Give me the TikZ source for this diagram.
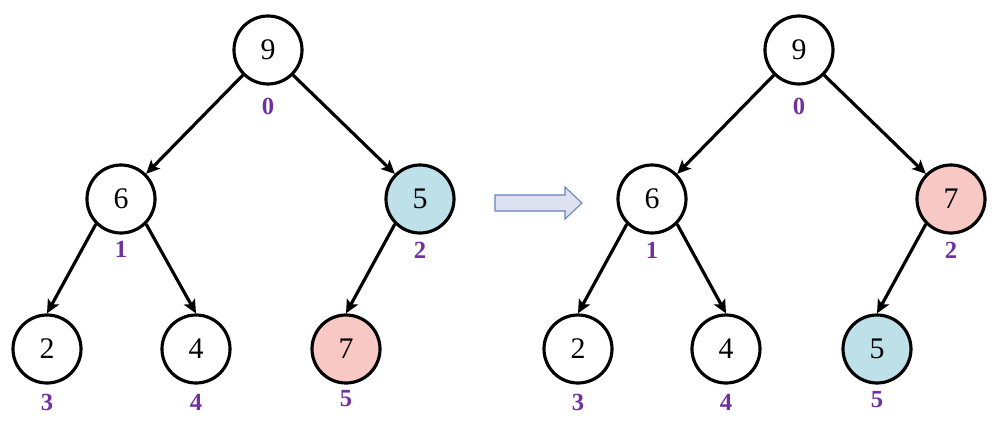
\documentclass[tikz,border=0pt]{standalone}
\usepackage{fontspec}
\setmainfont{Liberation Serif}
\usepackage{tikz}
\usetikzlibrary{arrows.meta,calc}
\definecolor{idxpurple}{HTML}{7030A0}
\definecolor{swapblue}{HTML}{BEE0E8}
\definecolor{swappink}{HTML}{F8C9C4}
\definecolor{arrowfill}{HTML}{DFE1F1}
\definecolor{arrowline}{HTML}{6483BB}
\tikzset{
	heapnode/.style={circle, draw, line width=1.8pt, minimum size=1.36cm, inner sep=0pt, font=\fontsize{17}{19}\selectfont},
	idx/.style={inner sep=0pt, text=idxpurple, font=\fontsize{14}{16}\selectfont\bfseries},
	heapedge/.style={line width=1.8pt, -{Stealth[length=0.27cm,width=0.25cm,inset=0.06cm]}}
}

\begin{document}
\begin{tikzpicture}
		\useasboundingbox (0,0) rectangle (20.02,-8.48);
%		before
		\node[heapnode] (A0) at (5.36,-1.00) {9};
		\node[heapnode] (A1) at (2.42,-3.98) {6};
		\node[heapnode, fill=swapblue] (A2) at (8.40,-3.98) {5};
		\node[heapnode] (A3) at (0.94,-6.98) {2};
		\node[heapnode] (A4) at (3.92,-6.98) {4};
		\node[heapnode, fill=swappink] (A5) at (6.92,-6.98) {7};
		\node[idx] (a0) at ($(A0) + (0,-1.13)$) {0};
		\node[idx] (a1) at ($(A1) + (0,-1.00)$) {1};
		\node[idx] (a2) at ($(A2) + (0,-1.02)$) {2};
		\node[idx] (a3) at ($(A3) + (0,-1.06)$) {3};
		\node[idx] (a4) at ($(A4) + (0,-1.06)$) {4};
		\node[idx] (a5) at ($(A5) + (0,-1.00)$) {5};
		\path[heapedge] (A0.south west) edge (A1.north east)
			(A0.south east) edge (A2.north west)
			(A1.south west) edge (A3.north)
			(A1.south east) edge (A4.north)
			(A2.south west) edge (A5.north);
%		
		\draw[fill=arrowfill, draw=arrowline, line width=0.6pt] (9.90,-3.90) -- (11.30,-3.90) -- (11.30,-3.74) -- (11.64,-4.06)
			-- (11.30,-4.38) -- (11.30,-4.22) -- (9.90,-4.22) -- cycle;
%		after
		\node[heapnode] (B0) at (15.98,-1.00) {9};
		\node[heapnode] (B1) at (13.04,-3.98) {6};
		\node[heapnode, fill=swappink] (B2) at (19.02,-3.98) {7};
		\node[heapnode] (B3) at (11.56,-6.98) {2};
		\node[heapnode] (B4) at (14.52,-6.98) {4};
		\node[heapnode, fill=swapblue] (B5) at (17.54,-6.98) {5};
		\node[idx] (b0) at ($(B0) + (0,-1.13)$) {0};
		\node[idx] (b1) at ($(B1) + (0,-1.02)$) {1};
		\node[idx] (b2) at ($(B2) + (0,-1.02)$) {2};
		\node[idx] (b3) at ($(B3) + (0,-1.06)$) {3};
		\node[idx] (b4) at ($(B4) + (0,-1.06)$) {4};
		\node[idx] (b5) at ($(B5) + (0,-1.02)$) {5};
		\path[heapedge] (B0.south west) edge (B1.north east)
			(B0.south east) edge (B2.north west)
			(B1.south west) edge (B3.north)
			(B1.south east) edge (B4.north)
			(B2.south west) edge (B5.north);
	\end{tikzpicture}
\end{document}
